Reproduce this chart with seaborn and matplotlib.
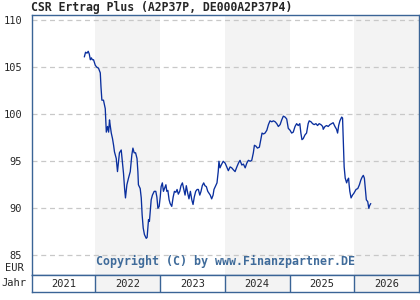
import matplotlib
matplotlib.use("Agg")
import matplotlib.pyplot as plt
import seaborn as sns
import pandas as pd

# Kursverlauf (Datum, Kurs in EUR)
dates = [
    "2021-10-31", "2021-11-07", "2021-11-15", "2021-11-22", "2021-11-28", "2021-12-04",
    "2021-12-10", "2021-12-15", "2021-12-22", "2022-01-01", "2022-01-10", "2022-01-19",
    "2022-01-29", "2022-02-02", "2022-02-07", "2022-02-16", "2022-02-26", "2022-03-04",
    "2022-03-11", "2022-03-17", "2022-03-22", "2022-03-26", "2022-04-01", "2022-04-08",
    "2022-04-14", "2022-04-19", "2022-04-29", "2022-05-06", "2022-05-12", "2022-05-17",
    "2022-05-27", "2022-06-02", "2022-06-09", "2022-06-15", "2022-06-20", "2022-06-28",
    "2022-07-07", "2022-07-17", "2022-07-26", "2022-08-01", "2022-08-08", "2022-08-16",
    "2022-08-24", "2022-08-29", "2022-09-01", "2022-09-11", "2022-09-17", "2022-09-22",
    "2022-09-28", "2022-10-05", "2022-10-15", "2022-10-20", "2022-10-28", "2022-11-02",
    "2022-11-12", "2022-11-19", "2022-11-29", "2022-12-08", "2022-12-14", "2022-12-20",
    "2022-12-27", "2023-01-02", "2023-01-07", "2023-01-14", "2023-01-20", "2023-01-26",
    "2023-02-03", "2023-02-08", "2023-02-14", "2023-02-21", "2023-02-27", "2023-03-08",
    "2023-03-16", "2023-03-23", "2023-03-31", "2023-04-07", "2023-04-14", "2023-04-22",
    "2023-04-29", "2023-05-07", "2023-05-15", "2023-05-22", "2023-05-29", "2023-06-06",
    "2023-06-13", "2023-06-21", "2023-06-29", "2023-07-06", "2023-07-13", "2023-07-21",
    "2023-07-29", "2023-08-05", "2023-08-13", "2023-08-20", "2023-08-27", "2023-09-04",
    "2023-09-11", "2023-09-19", "2023-09-27", "2023-10-04", "2023-10-11", "2023-10-19",
    "2023-10-27", "2023-11-01", "2023-11-11", "2023-11-18", "2023-11-25", "2023-11-29",
    "2023-12-05", "2023-12-12", "2023-12-23", "2024-01-03", "2024-01-12", "2024-01-21",
    "2024-01-31", "2024-02-09", "2024-02-18", "2024-02-28", "2024-03-09", "2024-03-18",
    "2024-03-27", "2024-04-06", "2024-04-15", "2024-04-25", "2024-05-04", "2024-05-13",
    "2024-05-23", "2024-06-01", "2024-06-10", "2024-06-16", "2024-06-25", "2024-07-03",
    "2024-07-14", "2024-07-22", "2024-07-29", "2024-08-06", "2024-08-15", "2024-08-25",
    "2024-09-03", "2024-09-12", "2024-09-22", "2024-10-01", "2024-10-11", "2024-10-20",
    "2024-10-29", "2024-11-08", "2024-11-17", "2024-11-26", "2024-12-06", "2024-12-15",
    "2024-12-24", "2025-01-03", "2025-01-12", "2025-01-21", "2025-01-31", "2025-02-09",
    "2025-02-18", "2025-02-27", "2025-03-05", "2025-03-11", "2025-03-18", "2025-03-28",
    "2025-04-06", "2025-04-15", "2025-04-21", "2025-05-01", "2025-05-10", "2025-05-19",
    "2025-05-29", "2025-06-07", "2025-06-16", "2025-06-26", "2025-07-06", "2025-07-09",
    "2025-07-19", "2025-07-28", "2025-08-06", "2025-08-16", "2025-08-25", "2025-09-03",
    "2025-09-13", "2025-09-22", "2025-09-28", "2025-10-04", "2025-10-11", "2025-10-21",
    "2025-10-26", "2025-10-30", "2025-11-04", "2025-11-10", "2025-11-18", "2025-11-23",
    "2025-11-29", "2025-12-02", "2025-12-06", "2025-12-13", "2025-12-21", "2025-12-29",
    "2026-01-10", "2026-01-20", "2026-01-29", "2026-02-06", "2026-02-13", "2026-02-20",
    "2026-02-26", "2026-03-04", "2026-03-09", "2026-03-17", "2026-03-23", "2026-03-28",
    "2026-04-03",
]
prices = [
    106.1, 106.6, 106.5, 106.7, 106.4, 105.8,
    106.0, 105.8, 105.8, 105.2, 105.0, 104.9,
    104.4, 102.9, 101.5, 101.5, 100.6, 98.1,
    98.7, 98.1, 99.4, 98.8, 98.0, 97.4,
    96.7, 96.0, 95.3, 93.9, 95.0, 95.9,
    96.2, 95.0, 93.7, 92.1, 91.1, 92.5,
    93.2, 93.9, 95.7, 96.4, 95.9, 95.9,
    95.3, 93.9, 92.5, 92.1, 91.1, 89.3,
    87.9, 87.2, 86.8, 86.9, 88.8, 88.6,
    90.9, 91.4, 91.8, 91.8, 91.2, 90.0,
    90.2, 91.2, 92.3, 92.7, 91.8, 92.1,
    92.5, 91.8, 91.9, 90.9, 90.5, 90.2,
    91.2, 91.8, 91.7, 92.0, 91.5, 91.8,
    92.4, 92.7, 92.0, 91.4, 92.4, 91.6,
    91.0, 91.8, 90.9, 90.4, 91.2, 91.8,
    92.0, 92.0, 91.4, 91.8, 92.4, 92.7,
    92.4, 92.3, 91.8, 91.6, 91.4, 91.0,
    91.4, 92.0, 92.4, 92.7, 93.9, 95.0,
    94.3, 94.6, 95.0, 94.8, 94.4, 94.0,
    94.4, 94.3, 94.1, 93.9, 94.4, 94.8,
    95.1, 94.6, 94.7, 94.3, 94.8, 95.1,
    95.0, 95.1, 95.9, 96.7, 96.6, 96.4,
    96.5, 97.3, 98.0, 97.9, 98.0, 98.3,
    98.9, 99.3, 99.2, 99.3, 99.2, 99.0,
    98.7, 98.9, 99.4, 99.8, 99.7, 99.5,
    98.5, 98.3, 98.0, 98.1, 98.7, 99.0,
    98.8, 99.0, 98.0, 97.3, 97.4, 97.8,
    98.0, 99.0, 99.3, 99.2, 99.0, 98.9,
    99.0, 98.8, 99.0, 98.9, 98.7, 98.4,
    98.7, 98.8, 98.7, 98.9, 99.0, 99.1,
    98.7, 98.4, 98.0, 98.8, 99.3, 99.7,
    99.6, 97.4, 94.4, 93.2, 92.7, 93.0,
    93.2, 92.5, 91.8, 91.1, 91.4, 91.6,
    92.0, 92.1, 92.5, 93.0, 93.3, 93.5,
    93.2, 92.0, 90.9, 90.7, 90.0, 90.3,
    90.5,
]
years = [2021, 2022, 2023, 2024, 2025, 2026]
y_ticks = [85, 90, 95, 100, 105, 110]

df = pd.DataFrame({"Datum": pd.to_datetime(dates), "Kurs": prices})

sns.set_theme(style="white")
plt.rcParams["font.family"] = ["DejaVu Sans Mono"]

frame_col = "#3a6496"
band_col = "#f3f3f3"
x_left = pd.Timestamp("2021-01-09")
x_right = pd.Timestamp("2026-12-31")

fig = plt.figure(figsize=(4.2, 3), dpi=100)
ax = fig.add_axes([32 / 420, 25 / 300, 387 / 420, 260 / 300])

# graue Jahresbänder
for yr in years:
    if yr % 2 == 0:
        ax.axvspan(pd.Timestamp(f"{yr}-01-01"), min(pd.Timestamp(f"{yr + 1}-01-01"), x_right),
                   color=band_col, lw=0, zorder=0)

for t in y_ticks:
    ax.axhline(t, color="#c8c8c8", lw=0.9, ls=(0, (4, 3)), zorder=1)

sns.lineplot(data=df, x="Datum", y="Kurs", ax=ax, color="#0a2f9e", lw=0.95, zorder=3)

ax.set_xlim(x_left, x_right)
ax.set_ylim(82.9, 110.56)
ax.set_yticks(y_ticks)
ax.set_yticklabels([str(t) for t in y_ticks], fontsize=7.5)
ax.set_xticks([])
ax.set_xlabel("")
ax.set_ylabel("")
ax.tick_params(axis="y", length=0, pad=7)
for s in ax.spines.values():
    s.set_color(frame_col)
    s.set_linewidth(1.0)

ax.text(0.5, 0.025, "Copyright (C) by www.Finanzpartner.DE", transform=ax.transAxes,
        ha="center", va="bottom", fontsize=8.4, fontweight="bold", color="#3f6b9a")
fig.text(24 / 420, 1 - 268 / 300, "EUR", ha="right", va="center", fontsize=7.5)
fig.text(31 / 420, 1 - 8 / 300, "CSR Ertrag Plus (A2P37P, DE000A2P37P4)",
         ha="left", va="center", fontsize=8.3, fontweight="bold")

# Jahreszeile
yax = fig.add_axes([32 / 420, 8 / 300, 387 / 420, 17 / 300])
yax.set_xlim(x_left, x_right)
yax.set_ylim(0, 1)
for yr in years:
    start = max(pd.Timestamp(f"{yr}-01-01"), x_left)
    end = min(pd.Timestamp(f"{yr + 1}-01-01"), x_right)
    if yr % 2 == 0:
        yax.axvspan(start, end, color=band_col, lw=0)
    if yr > years[0]:
        yax.axvline(start, color=frame_col, lw=1.0)
    yax.text(start + (end - start) / 2, 0.45, str(yr), ha="center", va="center", fontsize=7.5)
yax.set_xticks([])
yax.set_yticks([])
for s in yax.spines.values():
    s.set_color(frame_col)
    s.set_linewidth(1.0)
fig.text(1 / 420, 1 - 283 / 300, "Jahr", ha="left", va="center", fontsize=7.5)

fig.savefig("out.png", dpi=100)
